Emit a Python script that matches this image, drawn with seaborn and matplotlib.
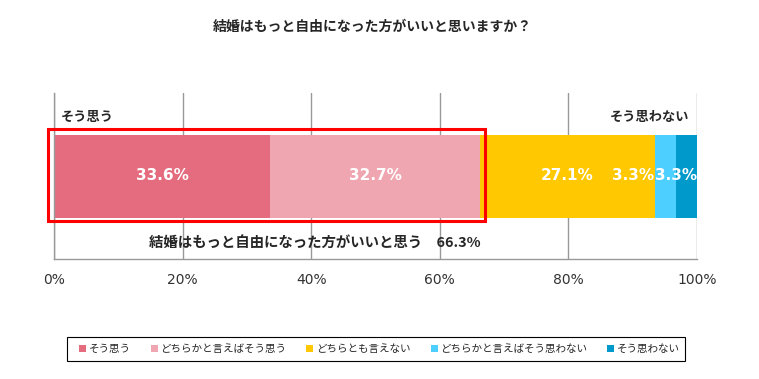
import matplotlib
matplotlib.use("Agg")
import matplotlib.pyplot as plt
from matplotlib.patches import Patch, Rectangle
import numpy as np
import seaborn as sns

# データ
categories = ["そう思う", "どちらかと言えばそう思う", "どちらとも言えない",
              "どちらかと言えばそう思わない", "そう思わない"]
values = [33.6, 32.7, 27.1, 3.3, 3.3]
colors = ["#E46C7E", "#F0A6B0", "#FFC800", "#4DCFFF", "#0099CC"]
ticks = [0, 20, 40, 60, 80, 100]
tick_labels = ["0%", "20%", "40%", "60%", "80%", "100%"]
title = "結婚はもっと自由になった方がいいと思いますか？"
agree_label = "結婚はもっと自由になった方がいいと思う　66.3%"

sns.set_theme(style="white")
plt.rcParams["font.family"] = ["Noto Sans CJK JP", "DejaVu Sans"]

fig = plt.figure(figsize=(7.59, 3.79), dpi=100)
ax = fig.add_axes([54 / 759, 1 - 259 / 379, 643 / 759, 166 / 379])

cum = np.cumsum(values)
# 積み上げ：累積値を大きい順に重ねて描く
for i in reversed(range(len(values))):
    sns.barplot(x=[cum[i]], y=[""], orient="h", color=colors[i],
                width=0.5, linewidth=0, saturation=1, ax=ax)

ax.set_xlim(0, 100)
ax.set_ylim(-0.5, 0.5)
ax.set_yticks([])
ax.set_ylabel("")
ax.set_xticks(ticks)
ax.set_xticklabels(tick_labels, family="DejaVu Sans", fontsize=10, color="#333333")
ax.tick_params(axis="x", direction="out", length=4, color="#999999", width=1, pad=6)
ax.xaxis.grid(True, color="#999999", linewidth=1)
ax.set_axisbelow(True)
for s in ["top", "right"]:
    ax.spines[s].set_visible(False)
for s in ["left", "bottom"]:
    ax.spines[s].set_color("#999999")
    ax.spines[s].set_linewidth(1)

# バーラベル
starts = cum - np.array(values)
lab_kw = dict(color="white", fontsize=11, fontweight="bold", va="center",
              family=["DejaVu Sans"])
ax.text(starts[0] + values[0] / 2, 0, f"{values[0]}%", ha="center", **lab_kw)
ax.text(starts[1] + values[1] / 2, 0, f"{values[1]}%", ha="center", **lab_kw)
ax.text(starts[2] + values[2] / 2, 0, f"{values[2]}%", ha="center", **lab_kw)
ax.text(starts[3], 0, f"{values[3]}%", ha="right", **lab_kw)
ax.text(cum[4], 0, f"{values[4]}%", ha="right", **lab_kw)

# 注記
ax.text(1, 0.355, "そう思う", ha="left", va="center", fontsize=9.5, fontweight="bold")
ax.text(98.8, 0.355, "そう思わない", ha="right", va="center", fontsize=9.5, fontweight="bold")
ax.text(cum[1], -0.404, agree_label, ha="right", va="center", fontsize=10.4, fontweight="bold")

ax.add_patch(Rectangle((-0.93, -0.271), 67.93, 0.554, fill=False,
                       edgecolor="#FF0000", linewidth=2.2, clip_on=False, zorder=5))

fig.text(372 / 759, 1 - 27 / 379, title, ha="center", va="center",
         fontsize=10, fontweight="bold")

handles = [Patch(facecolor=c, edgecolor="none") for c in colors]
leg = fig.legend(handles, categories, loc="center", ncol=5,
                 bbox_to_anchor=(379.5 / 759, 1 - 349 / 379), fontsize=7.6,
                 frameon=False, handlelength=0.66, handleheight=0.66,
                 handletextpad=0.25, columnspacing=1.9, borderpad=0.3)
# 凡例の枠
fig.patches.append(Rectangle((67 / 759, 1 - 361 / 379), 618 / 759, 24 / 379,
                             transform=fig.transFigure, fill=False,
                             edgecolor="black", linewidth=0.8))

fig.savefig("out.png", dpi=100)
